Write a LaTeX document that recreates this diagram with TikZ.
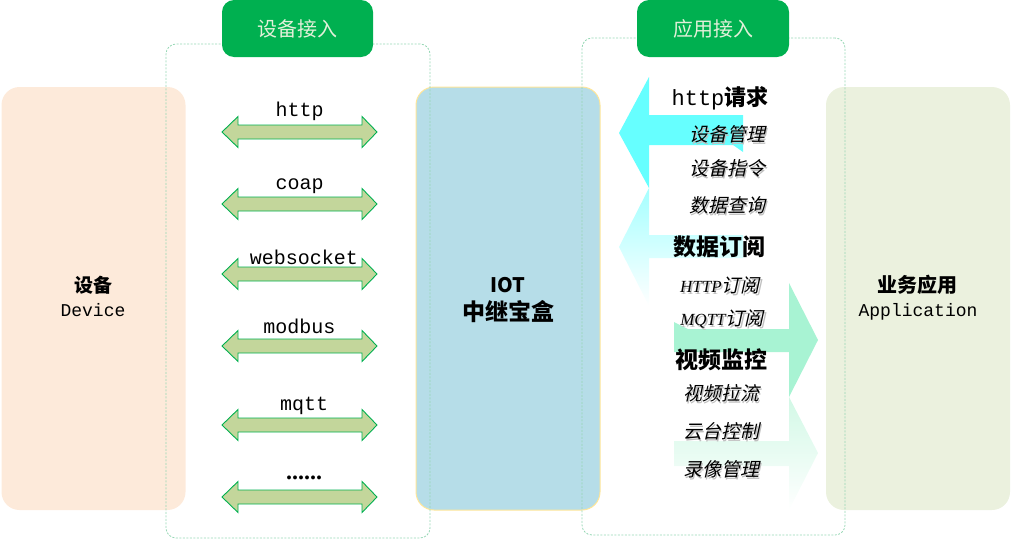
\documentclass[tikz,border=0pt]{standalone}
\usepackage{fontspec}
\setmainfont{Liberation Serif}
\newfontfamily\cjk{Noto Sans CJK SC}
\newfontfamily\cjkit[FakeSlant=0.22]{Noto Sans CJK SC}
\newfontfamily\mono{Liberation Mono}
\definecolor{peach}{RGB}{253,234,218}
\definecolor{iotblue}{RGB}{182,221,232}
\definecolor{iotline}{RGB}{255,230,153}
\definecolor{appgreen}{RGB}{235,241,222}
\definecolor{hdrgreen}{RGB}{0,176,80}
\definecolor{hdrtext}{RGB}{226,240,217}
\definecolor{dashc}{RGB}{150,215,180}
\definecolor{dblfill}{RGB}{195,214,155}
\definecolor{dblline}{RGB}{0,176,80}
\definecolor{cyanA}{RGB}{102,255,255}
\definecolor{cyanB}{RGB}{165,255,255}
\definecolor{mintA}{RGB}{168,243,211}
\definecolor{mintB}{RGB}{210,248,230}
\newcommand\dblarrow[1]{%
  \path[dbl] (222,#1) -- (238,{#1-15.5}) -- (238,{#1-7}) -- (362,{#1-7}) -- (362,{#1-15.5})
    -- (377,#1) -- (362,{#1+15.5}) -- (362,{#1+7}) -- (238,{#1+7}) -- (238,{#1+15.5}) -- cycle;}
\newcommand\itl[4]{%
  \node[itlab, text=black!25] (#1-s) at ({#2+1.5},{#3+2.5}) {#4};
  \node[itlab] (#1) at (#2,#3) {#4};}
\begin{document}
\begin{tikzpicture}[x=1pt,y=-1pt,
  box/.style={rounded corners=18pt, minimum width=184pt, minimum height=423pt, inner sep=0pt},
  dashbox/.style={draw=dashc, dash pattern=on 2pt off 1.5pt, line width=0.8pt, rounded corners=10pt, inner sep=0pt},
  hdr/.style={fill=hdrgreen, rounded corners=12pt, minimum height=57pt, inner sep=0pt, text=hdrtext, font=\cjk\fontsize{20}{24}\selectfont},
  dbl/.style={fill=dblfill, draw=dblline, line width=0.9pt, line join=miter},
  lab/.style={inner sep=0pt, anchor=base},
  monolab/.style={lab, font=\mono\fontsize{20}{24}\selectfont},
  head/.style={lab, font=\cjk\bfseries\fontsize{22}{26}\selectfont},
  itlab/.style={lab, font=\cjkit\fontsize{19}{22}\selectfont},
  boxcjk/.style={lab, font=\cjk\bfseries\fontsize{19}{22}\selectfont},
  boxlat/.style={lab, font=\mono\fontsize{18}{22}\selectfont}
]
\useasboundingbox (0,0) rectangle (1011,541);
% main boxes
\node[box, fill=peach] (dev) at (93.5,298.5) {};
\node[box, fill=iotblue, draw=iotline, line width=1pt] (iot) at (508,298.5) {};
\node[box, fill=appgreen] (app) at (918,298.5) {};
% dashed zones
\node[dashbox, minimum width=264pt, minimum height=494pt] (zoneL) at (298,291) {};
\node[dashbox, minimum width=263pt, minimum height=497pt] (zoneR) at (713.5,286.5) {};
% double arrows
\dblarrow{132}
\dblarrow{204}
\dblarrow{274}
\dblarrow{346}
\dblarrow{425}
\dblarrow{497}
% right-side big arrows
\fill[cyanA] (619,133) -- (649,77) -- (649,115) -- (743,115) -- (743,152) -- (733,145) -- (649,145) -- (649,188) -- cycle;
\shade[top color=cyanB, bottom color=white] (619,247) -- (649,188) -- (649,235) -- (743,235) -- (743,258) -- (649,258) -- (649,306) -- cycle;
\fill[mintA] (818,340) -- (789,283) -- (789,329) -- (688,329) -- (674,322) -- (674,352) -- (789,352) -- (789,397) -- cycle;
\shade[top color=mintB, bottom color=white] (818,453) -- (789,397) -- (789,441) -- (674,441) -- (674,466) -- (789,466) -- (789,510) -- cycle;
% headers
\node[hdr, minimum width=151pt] (hdrL) at (297.5,28.5) {设备接入};
\node[hdr, minimum width=152pt] (hdrR) at (713,28.5) {应用接入};
% protocol labels
\node[monolab] (p1) at (299.5,116) {http};
\node[monolab] (p2) at (299.5,189) {coap};
\node[monolab] (p3) at (304,264) {websocket};
\node[monolab] (p4) at (299.5,333) {modbus};
\node[monolab] (p5) at (304,410) {mqtt};
\node[lab, font=\bfseries\fontsize{24}{26}\selectfont] (p6) at (304,479) {......};
% box labels
\node[boxcjk] (devc) at (93,292) {设备};
\node[boxlat] (devl) at (93,316) {Device};
\node[lab, font=\cjk\bfseries\fontsize{20}{24}\selectfont] (iotl) at (508,292) {IOT};
\node[lab, font=\cjk\bfseries\fontsize{23}{26}\selectfont] (iotc) at (508,320) {中继宝盒};
\node[boxcjk, font=\cjk\bfseries\fontsize{20}{24}\selectfont] (appc) at (917,292) {业务应用};
\node[boxlat] (appl) at (918,316) {Application};
% right texts
\node[head] (h1) at (720,105) {{\mono\mdseries http}请求};
\itl{t1}{727}{141}{设备管理}
\itl{t2}{727}{175}{设备指令}
\itl{t3}{727}{212}{数据查询}
\node[head, font=\cjk\bfseries\fontsize{23}{26}\selectfont] (h2) at (719,255) {数据订阅};
\itl{t4}{720}{292}{{\rmfamily\itshape\fontsize{17}{20}\selectfont HTTP}订阅}
\itl{t5}{722}{325}{{\rmfamily\itshape\fontsize{17}{20}\selectfont MQTT}订阅}
\node[head, font=\cjk\bfseries\fontsize{23}{26}\selectfont] (h3) at (721,368) {视频监控};
\itl{t6}{721}{400}{视频拉流}
\itl{t7}{721}{438}{云台控制}
\itl{t8}{721}{476}{录像管理}
\end{tikzpicture}
\end{document}
